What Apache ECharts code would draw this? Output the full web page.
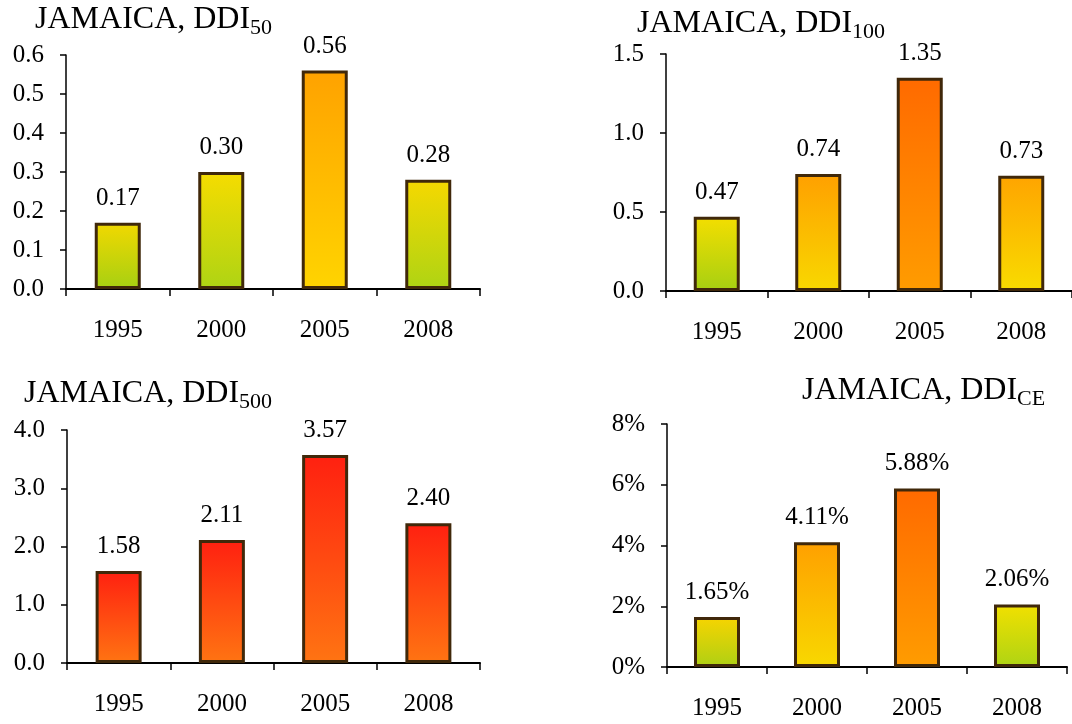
<!DOCTYPE html>
<html>
<head>
<meta charset="utf-8">
<script src="https://cdn.jsdelivr.net/npm/echarts@6/dist/echarts.min.js"></script>
<style>html,body{margin:0;padding:0;background:#fff}#c{width:1072px;height:724px}</style>
</head>
<body>
<div id="c"></div>
<script>
// ---- data ----
var categories = ['1995', '2000', '2005', '2008'];
var ddi50  = [0.17, 0.30, 0.56, 0.28];
var ddi100 = [0.47, 0.74, 1.35, 0.73];
var ddi500 = [1.58, 2.11, 3.57, 2.40];
var ddiCE  = [1.65, 4.11, 5.88, 2.06]; // percent
var titleMain = 'JAMAICA, DDI';
var titleSubs = ['50', '100', '500', 'CE'];

// ---- styles (top colour, bottom colour) per bar ----
var col50  = [['#f2d800', '#a6d012'], ['#f6dc00', '#aed414'], ['#ffa200', '#ffd400'], ['#f6d800', '#aed414']];
var col100 = [['#f4de00', '#a6d012'], ['#ffa000', '#f8d800'], ['#ff6a00', '#ff9c00'], ['#ffa400', '#f8dc00']];
var col500 = [['#ff2010', '#ff7412'], ['#ff2010', '#ff7412'], ['#ff2010', '#ff7412'], ['#ff2010', '#ff7412']];
var colCE  = [['#f8d400', '#aed014'], ['#ffa000', '#f8d800'], ['#ff6a00', '#ff9c00'], ['#f2e000', '#aed414']];

var FONT = 'Liberation Serif';

function grad(c) {
  return new echarts.graphic.LinearGradient(0, 0, 0, 1, [
    {offset: 0, color: c[0]}, {offset: 1, color: c[1]}
  ]);
}
function items(vals, cols) {
  return vals.map(function (v, i) {
    return {value: v, itemStyle: {color: grad(cols[i])}};
  });
}
function mkTitle(sub, x, y) {
  return {
    type: 'text', x: x, y: y, silent: true,
    style: {
      text: '{m|' + titleMain + '}{s|' + sub + '}',
      align: 'left', verticalAlign: 'top',
      rich: {
        m: {fontFamily: FONT, fontSize: 32, fontWeight: 'normal', fill: '#000', padding: [0, 0, 4, 0], verticalAlign: 'bottom'},
        s: {fontFamily: FONT, fontSize: 22, fontWeight: 'normal', fill: '#000', verticalAlign: 'bottom'}
      }
    }
  };
}
var grids = [
  {left: 66, right: 592, top: 55, bottom: 435},
  {left: 666, right: -9, top: 54, bottom: 433},
  {left: 67, right: 592, top: 430, bottom: 61},
  {left: 667, right: 5, top: 424, bottom: 57}
];
function xAx(i) {
  return {
    type: 'category', gridIndex: i, data: categories, boundaryGap: true,
    axisLine: {lineStyle: {color: '#000', width: 2}},
    axisTick: {show: true, length: 7, lineStyle: {color: '#000', width: 1.5}},
    axisLabel: {fontFamily: FONT, fontSize: 25, color: '#000', margin: 29}
  };
}
function yAx(i, max, interval, fmt) {
  return {
    type: 'value', gridIndex: i, min: 0, max: max, interval: interval,
    splitLine: {show: false},
    axisLine: {show: true, lineStyle: {color: '#000', width: 1.5}},
    axisTick: {show: true, length: 6, lineStyle: {color: '#000', width: 1.5}},
    axisLabel: {fontFamily: FONT, fontSize: 25, color: '#000', margin: 22, formatter: fmt}
  };
}
function fx1(v) { return v.toFixed(1); }
function fpct(v) { return Math.round(v) + '%'; }
function bar(i, vals, cols, fmt) {
  return {
    type: 'bar', xAxisIndex: i, yAxisIndex: i, barWidth: 46,
    data: items(vals, cols),
    itemStyle: {borderColor: '#40280a', borderWidth: 3},
    label: {
      show: true, position: 'top', distance: 12,
      fontFamily: FONT, fontSize: 25, color: '#000',
      formatter: function (p) { return fmt(p.value); }
    },
    animation: false
  };
}
var chart = echarts.init(document.getElementById('c'));
chart.setOption({
  animation: false,
  backgroundColor: '#fff',
  graphic: [
    mkTitle(titleSubs[0], 35, 3.5),
    mkTitle(titleSubs[1], 637, 7.5),
    mkTitle(titleSubs[2], 24, 377.5),
    mkTitle(titleSubs[3], 802, 374.5)
  ],
  grid: grids,
  xAxis: [xAx(0), xAx(1), xAx(2), xAx(3)],
  yAxis: [
    yAx(0, 0.6, 0.1, fx1),
    yAx(1, 1.5, 0.5, fx1),
    yAx(2, 4, 1, fx1),
    yAx(3, 8, 2, fpct)
  ],
  series: [
    bar(0, ddi50, col50, function (v) { return v.toFixed(2); }),
    bar(1, ddi100, col100, function (v) { return v.toFixed(2); }),
    bar(2, ddi500, col500, function (v) { return v.toFixed(2); }),
    bar(3, ddiCE, colCE, function (v) { return v.toFixed(2) + '%'; })
  ]
});
</script>
</body>
</html>
